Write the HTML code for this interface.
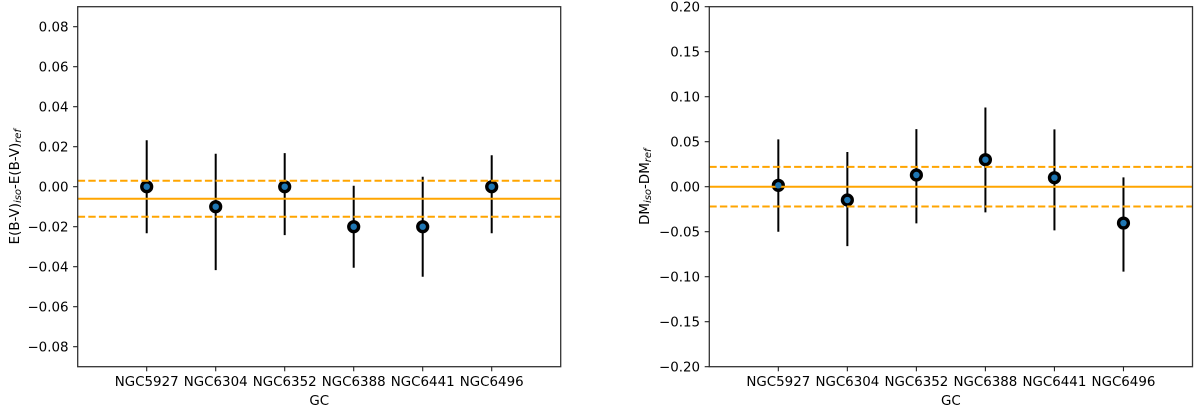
<!DOCTYPE html>
<html lang="en">
<head>
<meta charset="utf-8">
<title>Isochrone vs reference comparison</title>
<style>
  html, body { margin: 0; padding: 0; background: #fff; }
  svg { display: block; }
  text { font-family: "DejaVu Sans", "Liberation Sans", sans-serif; fill: #000; }
</style>
</head>
<body>
<svg id="chart" xmlns="http://www.w3.org/2000/svg" width="1200" height="413" viewBox="0 0 1200 413"></svg>
<script>
const categories = ['NGC5927', 'NGC6304', 'NGC6352', 'NGC6388', 'NGC6441', 'NGC6496'];

const ebvValues = [0, -0.01, 0, -0.02, -0.02, 0];
const ebvErrTop = [0.0232, 0.0165, 0.0168, 0.0005, 0.005, 0.0157];
const ebvErrBottom = [-0.0233, -0.0417, -0.0242, -0.0405, -0.045, -0.0233];
const ebvMean = -0.006;
const ebvBand = [0.003, -0.015];
const ebvTicks = [0.08, 0.06, 0.04, 0.02, 0, -0.02, -0.04, -0.06, -0.08];
const ebvTickLabels = ['0.08', '0.06', '0.04', '0.02', '0.00', '\u22120.02', '\u22120.04', '\u22120.06', '\u22120.08'];

const dmValues = [0.0015, -0.0148, 0.013, 0.03, 0.01, -0.0404];
const dmErrTop = [0.0526, 0.0385, 0.064, 0.088, 0.0637, 0.0104];
const dmErrBottom = [-0.05, -0.066, -0.0407, -0.0285, -0.0485, -0.0944];
const dmMean = 0;
const dmBand = [0.022, -0.022];
const dmTicks = [0.2, 0.15, 0.1, 0.05, 0, -0.05, -0.1, -0.15, -0.2];
const dmTickLabels = ['0.20', '0.15', '0.10', '0.05', '0.00', '\u22120.05', '\u22120.10', '\u22120.15', '\u22120.20'];

const NS = 'http://www.w3.org/2000/svg';
const root = document.getElementById('chart');

function make(parent, tag, attrs, text) {
  const el = document.createElementNS(NS, tag);
  for (const k in attrs) el.setAttribute(k, attrs[k]);
  if (text !== undefined) el.textContent = text;
  parent.appendChild(el);
  return el;
}

function drawPanel(p) {
  const g = make(root, 'g', {});
  
  

  const xScale = v => p.left + (v - (-1)) / 7 * (p.right - p.left);
  const yScale = v => p.top + (p.yMax - v) / (2 * p.yMax) * (p.bottom - p.top);

  // error bars
  categories.forEach((c, i) => {
    const bar = make(g, 'line', {
      x1: xScale(i), x2: xScale(i),
      y1: yScale(p.errTop[i]), y2: yScale(p.errBottom[i]),
      stroke: '#000', 'stroke-width': 2
    });
    
    
  });

  // black marker rings
  categories.forEach((c, i) => {
    const ring = make(g, 'circle', {
      cx: xScale(i), cy: yScale(p.values[i]), r: 6.6, fill: '#000'
    });
    
    
  });

  // reference lines
  const mean = make(g, 'line', {
    x1: p.left, x2: p.right, y1: yScale(p.mean), y2: yScale(p.mean),
    stroke: '#ffa500', 'stroke-width': 2
  });
  
  

  p.band.forEach(v => {
    const dash = make(g, 'line', {
      x1: p.left, x2: p.right, y1: yScale(v), y2: yScale(v),
      stroke: '#ffa500', 'stroke-width': 2, 'stroke-dasharray': '7.4 3.2'
    });
    
    
  });

  // blue marker centres
  categories.forEach((c, i) => {
    const dot = make(g, 'circle', {
      cx: xScale(i), cy: yScale(p.values[i]), r: 3.2, fill: '#1f77b4'
    });
    
    
  });

  // spines
  const frame = make(g, 'rect', {
    x: p.left, y: p.top, width: p.right - p.left, height: p.bottom - p.top,
    fill: 'none', stroke: '#333', 'stroke-width': 1.3
  });
  
  

  // y ticks
  p.ticks.forEach((v, i) => {
    const y = yScale(v);
    const tick = make(g, 'line', {
      x1: p.left - 4.6, x2: p.left, y1: y, y2: y, stroke: '#222', 'stroke-width': 1.1
    });
    
    
    const label = make(g, 'text', {
      x: p.left - 9.2, y: y + 5, 'text-anchor': 'end', 'font-size': 13.4
    }, p.tickLabels[i]);
    
    
  });

  // x ticks
  categories.forEach((c, i) => {
    const x = xScale(i);
    const tick = make(g, 'line', {
      x1: x, x2: x, y1: p.bottom, y2: p.bottom + 4.6, stroke: '#222', 'stroke-width': 1.1
    });
    
    
    const label = make(g, 'text', {
      x: x, y: p.bottom + 19.5, 'text-anchor': 'middle', 'font-size': 13.4
    }, c);
    
    
  });

  // x axis title
  const xTitle = make(g, 'text', {
    x: (p.left + p.right) / 2, y: p.bottom + 38.5, 'text-anchor': 'middle', 'font-size': 13.4
  }, 'GC');
  
  

  // y axis title with italic subscripts
  const yTitle = make(g, 'text', {
    transform: 'translate(' + p.titleX + ' ' + yScale(0) + ') rotate(-90)',
    'text-anchor': 'middle', 'font-size': 13.4
  });
  
  
  make(yTitle, 'tspan', {}, p.titleA);
  make(yTitle, 'tspan', { dy: 2.2, 'font-size': 10, 'font-style': 'italic' }, 'iso');
  make(yTitle, 'tspan', { dy: -2.2 }, '-' + p.titleB);
  make(yTitle, 'tspan', { dy: 2.2, 'font-size': 10, 'font-style': 'italic' }, 'ref');
}

drawPanel({
  name: 'ebv',
  left: 77.7, right: 560.7, top: 6.7, bottom: 366.7, yMax: 0.09,
  values: ebvValues, errTop: ebvErrTop, errBottom: ebvErrBottom,
  mean: ebvMean, band: ebvBand, ticks: ebvTicks, tickLabels: ebvTickLabels,
  titleX: 19, titleA: 'E(B-V)', titleB: 'E(B-V)'
});

drawPanel({
  name: 'dm',
  left: 709.3, right: 1192.5, top: 6.7, bottom: 366.7, yMax: 0.2,
  values: dmValues, errTop: dmErrTop, errBottom: dmErrBottom,
  mean: dmMean, band: dmBand, ticks: dmTicks, tickLabels: dmTickLabels,
  titleX: 649, titleA: 'DM', titleB: 'DM'
});
</script>
</body>
</html>
